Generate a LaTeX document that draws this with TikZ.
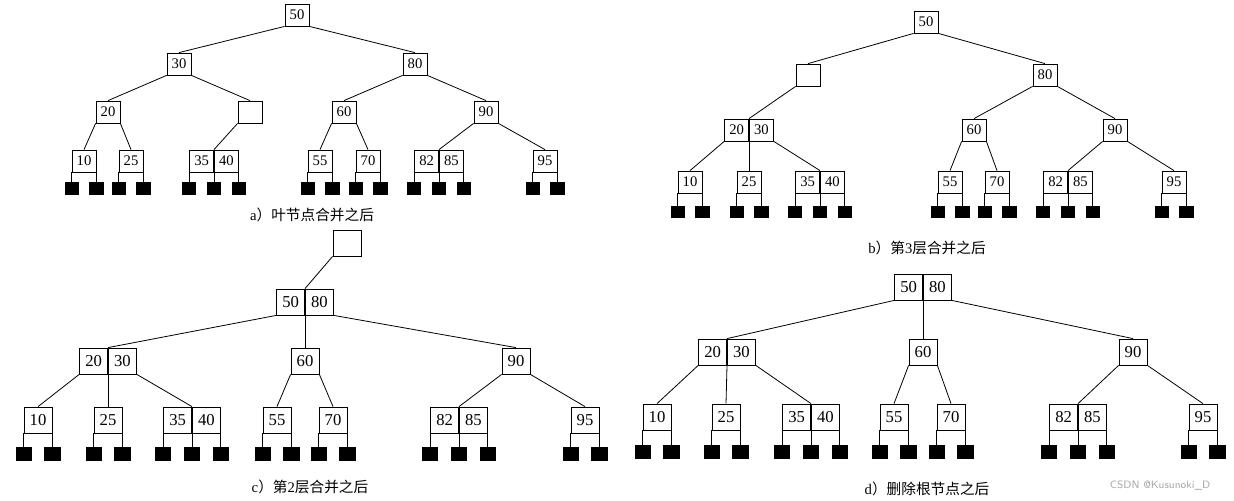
\documentclass[tikz,border=0pt]{standalone}
\usepackage{fontspec}
\setmainfont{Liberation Serif}
\newfontfamily\cjk{Noto Sans CJK SC}
\newlength\stemlen
\newcommand\kb[4]{\node[kbox] (#1) at (#2,#3) {#4};}
\newcommand\kbb[5]{%
 \node[kbox,anchor=east] (#1l) at (#2,#3) {#4};
 \node[kbox,anchor=west] (#1r) at (#2,#3) {#5};}
\newcommand\leafone[4]{%
 \node[kbox] (#1) at (#2,#3) {#4};
 \node[sq] (#1s1) at ([yshift=-\stemlen]#1.south west) {};
 \node[sq] (#1s2) at ([yshift=-\stemlen]#1.south east) {};
 \draw (#1.south west) -- (#1s1.north);
 \draw (#1.south east) -- (#1s2.north);}
\newcommand\leaftwo[5]{%
 \kbb{#1}{#2}{#3}{#4}{#5}
 \node[sq] (#1s1) at ([yshift=-\stemlen]#1l.south west) {};
 \node[sq] (#1s2) at ([yshift=-\stemlen]#1l.south east) {};
 \node[sq] (#1s3) at ([yshift=-\stemlen]#1r.south east) {};
 \draw (#1l.south west) -- (#1s1.north);
 \draw (#1l.south east) -- (#1s2.north);
 \draw (#1r.south east) -- (#1s3.north);}
\tikzset{
 boxab/.style={draw, minimum width=18pt, minimum height=16.5pt, inner sep=0pt, font=\fontsize{11}{12}\selectfont},
 boxcd/.style={draw, minimum width=21pt, minimum height=19.5pt, inner sep=0pt, font=\fontsize{12.5}{13}\selectfont},
 sqab/.style={fill=black, draw=black, minimum width=10pt, minimum height=8.5pt, inner sep=0pt, anchor=north},
 sqcd/.style={fill=black, draw=black, minimum width=11.5pt, minimum height=10pt, inner sep=0pt, anchor=north},
 captext/.style={font=\fontsize{11}{13}\selectfont},
 every path/.style={line width=0.6pt}
}
\begin{document}
\begin{tikzpicture}[x=0.75pt,y=-0.75pt]
\useasboundingbox (0,0) rectangle (1234,500);
% ---------- a ----------
\begin{scope}[kbox/.style=boxab, sq/.style=sqab]
\setlength\stemlen{7.5pt}
\kb{a50}{297}{15}{50}
\kb{a30}{179}{64}{30}
\kb{a80}{415}{64}{80}
\kb{a20}{108}{112}{20}
\kb{ae}{250}{112}{}
\kb{a60}{344}{112}{60}
\kb{a90}{486}{112}{90}
\leafone{a10}{84}{161}{10}
\leafone{a25}{131}{161}{25}
\leaftwo{a35}{214}{161}{35}{40}
\leafone{a55}{320}{161}{55}
\leafone{a70}{368}{161}{70}
\leaftwo{a82}{439}{161}{82}{85}
\leafone{a95}{545}{161}{95}
\draw (a50.south west) -- (a30.north);
\draw (a50.south east) -- (a80.north);
\draw (a30.south west) -- (a20.north);
\draw (a30.south east) -- (ae.north);
\draw (a80.south west) -- (a60.north);
\draw (a80.south east) -- (a90.north);
\draw (a20.south west) -- (a10.north);
\draw (a20.south east) -- (a25.north);
\draw (ae.south west) -- (a35l.north east);
\draw (a60.south west) -- (a55.north);
\draw (a60.south east) -- (a70.north);
\draw (a90.south west) -- (a82l.north east);
\draw (a90.south east) -- (a95.north);
\node[captext] (capa) at (312,215) {a{\cjk）叶节点合并之后}};
\end{scope}
% ---------- b ----------
\begin{scope}[kbox/.style=boxab, sq/.style=sqab]
\setlength\stemlen{9.5pt}
\kb{b50}{926}{22}{50}
\kb{be}{808}{75}{}
\kb{b80}{1045}{75}{80}
\kbb{b20}{749}{130}{20}{30}
\kb{b60}{974}{130}{60}
\kb{b90}{1115}{130}{90}
\leafone{b10}{690}{182}{10}
\leafone{b25}{749}{182}{25}
\leaftwo{b35}{820}{182}{35}{40}
\leafone{b55}{950}{182}{55}
\leafone{b70}{997}{182}{70}
\leaftwo{b82}{1068}{182}{82}{85}
\leafone{b95}{1174}{182}{95}
\draw (b50.south west) -- (be.north);
\draw (b50.south east) -- (b80.north);
\draw (be.south west) -- (b20l.north east);
\draw (b80.south west) -- (b60.north);
\draw (b80.south east) -- (b90.north);
\draw (b20l.south west) -- (b10.north);
\draw (b20l.south east) -- (b25.north);
\draw (b20r.south east) -- (b35l.north east);
\draw (b60.south west) -- (b55.north);
\draw (b60.south east) -- (b70.north);
\draw (b90.south west) -- (b82l.north east);
\draw (b90.south east) -- (b95.north);
\node[captext] (capb) at (927,248) {b{\cjk）第}3{\cjk 层合并之后}};
\end{scope}
% ---------- c ----------
\begin{scope}[kbox/.style=boxcd, sq/.style=sqcd]
\setlength\stemlen{10pt}
\kb{ce}{347}{243}{}
\kbb{c50}{305}{302}{50}{80}
\kbb{c20}{108}{361}{20}{30}
\kb{c60}{305}{361}{60}
\kb{c90}{516}{361}{90}
\leafone{c10}{38}{420}{10}
\leafone{c25}{108}{420}{25}
\leaftwo{c35}{192}{420}{35}{40}
\leafone{c55}{277}{420}{55}
\leafone{c70}{333}{420}{70}
\leaftwo{c82}{459}{420}{82}{85}
\leafone{c95}{585}{420}{95}
\draw (ce.south west) -- (c50l.north east);
\draw (c50l.south west) -- (c20l.north east);
\draw (c50l.south east) -- (c60.north);
\draw (c50r.south east) -- (c90.north);
\draw (c20l.south west) -- (c10.north);
\draw (c20l.south east) -- (c25.north);
\draw (c20r.south east) -- (c35l.north east);
\draw (c60.south west) -- (c55.north);
\draw (c60.south east) -- (c70.north);
\draw (c90.south west) -- (c82l.north east);
\draw (c90.south east) -- (c95.north);
\node[captext] (capc) at (310,487) {c{\cjk）第}2{\cjk 层合并之后}};
\end{scope}
% ---------- d ----------
\begin{scope}[kbox/.style=boxcd, sq/.style=sqcd]
\setlength\stemlen{11pt}
\kbb{d50}{923}{287}{50}{80}
\kbb{d20}{727}{352}{20}{30}
\kb{d60}{923}{352}{60}
\kb{d90}{1133}{352}{90}
\leafone{d10}{657}{417}{10}
\leafone{d25}{726}{417}{25}
\leaftwo{d35}{811}{417}{35}{40}
\leafone{d55}{894}{417}{55}
\leafone{d70}{951}{417}{70}
\leaftwo{d82}{1078}{417}{82}{85}
\leafone{d95}{1203}{417}{95}
\draw (d50l.south west) -- (d20l.north east);
\draw (d50l.south east) -- (d60.north);
\draw (d50r.south east) -- (d90.north);
\draw (d20l.south west) -- (d10.north);
\draw (d20l.south east) -- (d25.north);
\draw (d20r.south east) -- (d35l.north east);
\draw (d60.south west) -- (d55.north);
\draw (d60.south east) -- (d70.north);
\draw (d90.south west) -- (d82l.north east);
\draw (d90.south east) -- (d95.north);
\node[captext] (capd) at (927,489) {d{\cjk）删除根节点之后}};
\end{scope}
\node[text=black!35, font=\sffamily\fontsize{8}{9}\selectfont] (wm) at (1160,486) {CSDN @Kusunoki\_D};
\end{tikzpicture}
\end{document}
